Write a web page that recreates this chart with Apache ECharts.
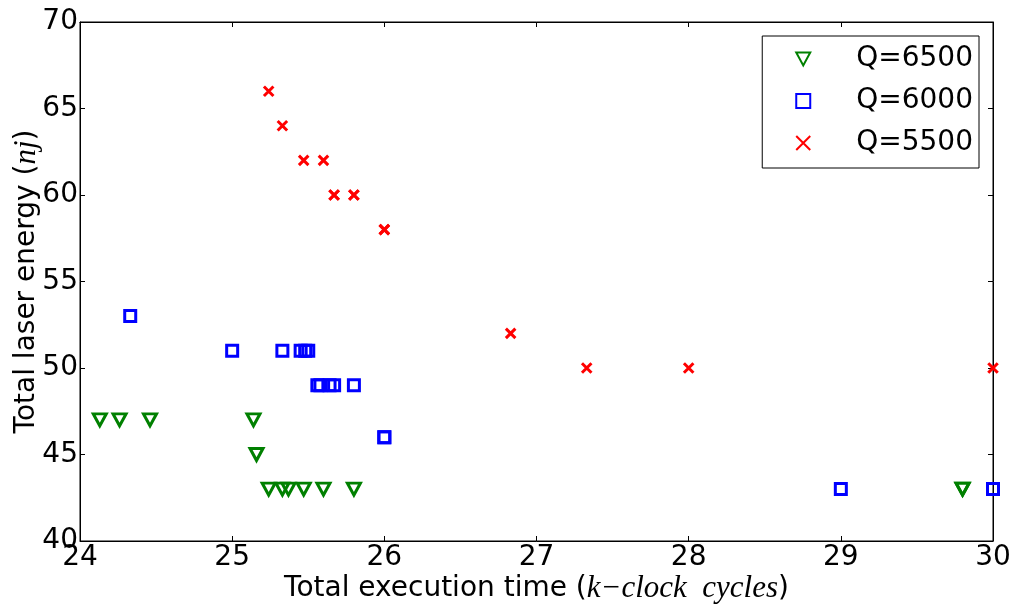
<!DOCTYPE html>
<html>
<head>
<meta charset="utf-8">
<script src="https://cdn.jsdelivr.net/npm/echarts@6/dist/echarts.min.js"></script>
<style>html,body{margin:0;padding:0;background:#fff}#c{width:1017px;height:608px}</style>
</head>
<body>
<div id="c"></div>
<script>
// Q=6500 (green triangles)
const q6500X = [24.13, 24.26, 24.46, 25.14, 25.16, 25.24, 25.33, 25.37, 25.47, 25.60, 25.80, 29.80, 29.80];
const q6500Y = [47, 47, 47, 47, 45, 43, 43, 43, 43, 43, 43, 43, 43];
// Q=6000 (blue squares)
const q6000X = [24.33, 25.00, 25.33, 25.45, 25.48, 25.50, 25.56, 25.58, 25.64, 25.67, 25.80, 26.00, 26.00, 29.00, 30.00];
const q6000Y = [53, 51, 51, 51, 51, 51, 49, 49, 49, 49, 49, 46, 46, 43, 43];
// Q=5500 (red crosses)
const q5500X = [25.24, 25.33, 25.47, 25.60, 25.67, 25.67, 25.80, 25.80, 26.00, 26.00, 26.83, 27.33, 28.00, 30.00];
const q5500Y = [66, 64, 62, 62, 60, 60, 60, 60, 58, 58, 52, 50, 50, 50];
const seriesNames = ['Q=6500', 'Q=6000', 'Q=5500'];
const xTicks = {min: 24, max: 30, interval: 1};
const yTicks = {min: 40, max: 70, interval: 5};

const zip = (xs, ys) => xs.map((x, i) => [x, ys[i]]);
const crossPath = 'path://M0,0L10,10M10,0L0,10';
const downTriangle = 'path://M0,0L12,0L6,11Z';
const font = 'DejaVu Sans';
const fs = 28;

const chart = echarts.init(document.getElementById('c'));
const tickCommon = {inside: true, length: 5, lineStyle: {color: '#000', width: 1}};
chart.setOption({
  animation: false,
  backgroundColor: '#fff',
  grid: {left: 80, right: 24, top: 22, bottom: 67, outerBoundsMode: 'none', containLabel: false,
         show: true, borderColor: '#000', borderWidth: 1, backgroundColor: 'transparent'},
  legend: {
    orient: 'vertical',
    right: 38, top: 36,
    data: seriesNames,
    itemWidth: 14, itemHeight: 14, itemGap: 12,
    borderColor: '#000', borderWidth: 1, borderRadius: 0,
    padding: [8, 6, 10, 33],
    textStyle: {fontFamily: font, fontSize: fs, color: '#000', lineHeight: 30, padding: [0, 0, 0, 41]}
  },
  xAxis: [{
    type: 'value', min: xTicks.min, max: xTicks.max, interval: xTicks.interval,
    position: 'bottom',
    axisLine: {show: true, lineStyle: {color: '#000'}},
    axisTick: tickCommon,
    splitLine: {show: false},
    axisLabel: {fontFamily: font, fontSize: fs, color: '#000', margin: 3},
    name: '{a|Total execution time (}{b|k−clock  cycles}{a|)}',
    nameLocation: 'middle', nameGap: 32, nameMoveOverlap: false,
    nameTextStyle: {rich: {
      a: {fontFamily: font, fontSize: fs, color: '#000'},
      b: {fontFamily: 'Liberation Serif', fontStyle: 'italic', fontSize: 31, color: '#000'}
    }}
  }, {
    type: 'value', min: xTicks.min, max: xTicks.max, interval: xTicks.interval,
    position: 'top',
    axisLine: {show: true, lineStyle: {color: '#000'}},
    axisTick: tickCommon, axisLabel: {show: false}, splitLine: {show: false}
  }],
  yAxis: [{
    type: 'value', min: yTicks.min, max: yTicks.max, interval: yTicks.interval,
    position: 'left',
    axisLine: {show: true, lineStyle: {color: '#000'}},
    axisTick: tickCommon,
    splitLine: {show: false},
    axisLabel: {fontFamily: font, fontSize: fs, color: '#000', margin: 2},
    name: '{a|Total laser energy (}{b|nj}{a|)}',
    nameLocation: 'middle', nameGap: 38, nameMoveOverlap: false,
    nameTextStyle: {rich: {
      a: {fontFamily: font, fontSize: fs, color: '#000'},
      b: {fontFamily: 'Liberation Serif', fontStyle: 'italic', fontSize: 31, color: '#000'}
    }}
  }, {
    type: 'value', min: yTicks.min, max: yTicks.max, interval: yTicks.interval,
    position: 'right',
    axisLine: {show: true, lineStyle: {color: '#000'}},
    axisTick: tickCommon, axisLabel: {show: false}, splitLine: {show: false}
  }],
  series: [{
    name: seriesNames[0], type: 'scatter', data: zip(q6500X, q6500Y),
    symbol: downTriangle, symbolSize: [13, 12],
    itemStyle: {color: 'rgba(0,0,0,0)', borderColor: '#008000', borderWidth: 3, opacity: 1},
    emphasis: {disabled: true}, clip: false
  }, {
    name: seriesNames[1], type: 'scatter', data: zip(q6000X, q6000Y),
    symbol: 'rect', symbolSize: 11,
    itemStyle: {color: 'rgba(0,0,0,0)', borderColor: '#0000ff', borderWidth: 3, opacity: 1},
    emphasis: {disabled: true}, clip: true
  }, {
    name: seriesNames[2], type: 'scatter', data: zip(q5500X, q5500Y),
    symbol: crossPath, symbolSize: 9.5,
    itemStyle: {color: '#ff0000', borderColor: '#ff0000', borderWidth: 3, opacity: 1},
    emphasis: {disabled: true}, clip: true
  }]
});
</script>
</body>
</html>
